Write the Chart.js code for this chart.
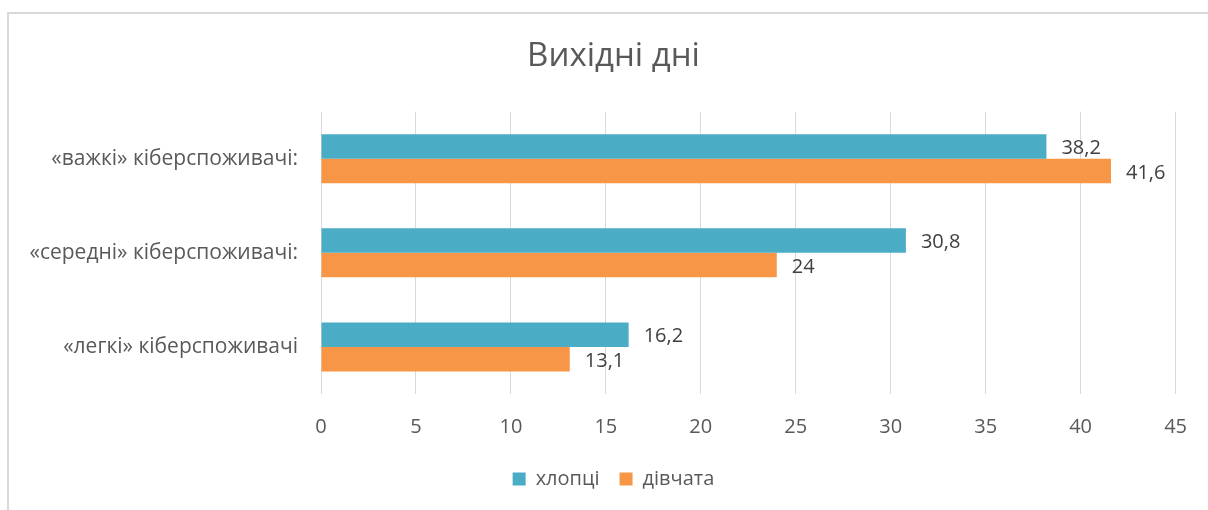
<!DOCTYPE html>
<html>
<head>
<meta charset="utf-8">
<script src="https://cdn.jsdelivr.net/npm/chart.js@4.4.1/dist/chart.umd.min.js"></script>
<style>
  html, body { margin: 0; padding: 0; background: #fff; }
  #wrap { position: absolute; left: 0; top: 0; width: 1208px; height: 510px; }
  #frame { position: absolute; left: 7px; top: 12px; width: 1201px; height: 498px;
           border-top: 2px solid #d9d9d9; border-left: 2px solid #d9d9d9; box-sizing: border-box; }
</style>
</head>
<body>
<div id="frame"></div>
<div id="wrap"><canvas id="chart"></canvas></div>
<script>
const categories = ['«важкі» кіберспоживачі:', '«середні» кіберспоживачі:', '«легкі» кіберспоживачі'];
const boys = [38.2, 30.8, 16.2];
const girls = [41.6, 24, 13.1];
const seriesNames = ['хлопці', 'дівчата'];
const xTicks = [0, 5, 10, 15, 20, 25, 30, 35, 40, 45];

const textColor = '#595959';
const fontFamily = '"Open Sans", "Noto Sans", sans-serif';

// labels at the end of each bar, with a comma as decimal sign
const barLabels = {
  id: 'barLabels',
  afterDatasetsDraw(chart) {
    const ctx = chart.ctx;
    ctx.save();
    ctx.font = '20px ' + fontFamily;
    ctx.fillStyle = '#404040';
    ctx.textAlign = 'left';
    ctx.textBaseline = 'middle';
    chart.data.datasets.forEach((ds, i) => {
      chart.getDatasetMeta(i).data.forEach((bar, j) => {
        const txt = String(ds.data[j]).replace('.', ',');
        ctx.fillText(txt, bar.x + 15, bar.y + 2);
      });
    });
    ctx.restore();
  }
};

// the long category names need room left of the y axis box
const widenLabels = {
  id: 'widenLabels',
  afterLayout(chart) {
    chart.scales.y.left = 0;
  }
};

function mainEvent() {
  const ctx = document.getElementById('chart').getContext('2d');
  new Chart(ctx, {
    type: 'bar',
    data: {
      labels: categories,
      datasets: [
        { label: seriesNames[0], data: boys, backgroundColor: '#4bacc6' },
        { label: seriesNames[1], data: girls, backgroundColor: '#f79646' }
      ]
    },
    options: {
      indexAxis: 'y',
      responsive: true,
      maintainAspectRatio: false,
      animation: false,
      categoryPercentage: 0.52,
      barPercentage: 1,
      layout: { padding: { left: 50, right: 31, top: 12, bottom: 11 } },
      scales: {
        x: {
          min: 0,
          max: 45,
          afterBuildTicks: (scale) => { scale.ticks = xTicks.map((v) => ({ value: v })); },
          afterFit: (scale) => { scale.height = 55; },
          grid: { color: '#d9d9d9', drawTicks: false },
          border: { display: false },
          ticks: { color: textColor, padding: 21, font: { family: fontFamily, size: 20 } }
        },
        y: {
          afterFit: (scale) => { scale.width = 271; },
          grid: { display: false, drawTicks: false },
          border: { display: false },
          ticks: { color: textColor, padding: 23, font: { family: fontFamily, size: 21 } }
        }
      },
      plugins: {
        title: {
          display: true,
          text: 'Вихідні дні',
          color: textColor,
          font: { family: fontFamily, size: 33, weight: 'normal' },
          padding: { top: 25, bottom: 35 }
        },
        legend: {
          position: 'bottom',
          labels: {
            color: textColor,
            boxWidth: 13,
            boxHeight: 13,
            padding: 20,
            font: { family: fontFamily, size: 20 }
          }
        },
        tooltip: { enabled: false }
      }
    },
    plugins: [barLabels, widenLabels]
  });
}

document.addEventListener('DOMContentLoaded', () => mainEvent());
</script>
</body>
</html>
